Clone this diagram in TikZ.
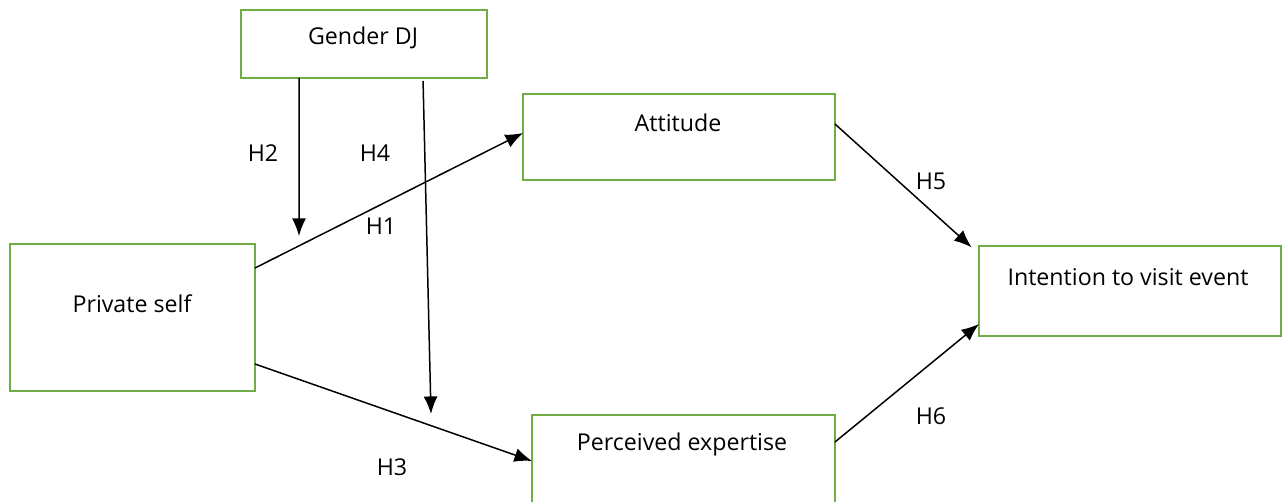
\documentclass[tikz,border=0pt]{standalone}
\usepackage{fontspec}
\setmainfont{Open Sans}
\usepackage{xcolor}
\usetikzlibrary{arrows.meta, positioning, calc}
\definecolor{boxgreen}{HTML}{70AD47}

\begin{document}
\begin{tikzpicture}[x=0.02cm, y=-0.02cm,
    font=\fontsize{13.2}{15}\selectfont,
    box/.style={draw=boxgreen, line width=0.8pt, inner sep=0pt, outer sep=0pt},
    hyp/.style={-{Latex[length=10pt,width=8pt]}, line width=0.85pt}]
          \useasboundingbox (0,0) rectangle (1286,501);

          % boxes
          \node[box, minimum width=4.92cm, minimum height=1.36cm] (gdj) at (364,44) {};
          \node[box, minimum width=6.24cm, minimum height=1.72cm] (att) at (679,137) {};
          \node[box, minimum width=4.90cm, minimum height=2.94cm] (prv) at (132.5,317.5) {};
          \node[box, minimum width=6.04cm, minimum height=1.80cm] (int) at (1130,291) {};
          \node[box, minimum width=6.06cm, minimum height=1.96cm] (per) at (683.5,464) {};

          \node (gdjtxt) at (363,38) {Gender DJ};
          \node (atttxt) at (678,123) {Attitude};
          \node (prvtxt) at (132,304) {Private self};
          \node (inttxt) at (1128,277) {Intention to visit event};
          \node (pertxt) at (682,444) {Perceived expertise};

          % moderator arrows
          \coordinate (h2end) at (299,236);
          \coordinate (h4end) at (431,414);
          \draw[hyp] ([xshift=-1.3cm]gdj.south) -- (h2end);
          \draw[hyp, shorten <=0.06cm] ([xshift=1.18cm]gdj.south) -- (h4end);

          % paths
          \draw[hyp] ([yshift=0.99cm]prv.east) -- ([yshift=0.08cm]att.west);
          \draw[hyp] ([yshift=-0.93cm]prv.east) -- ([yshift=0.06cm]per.west);
          \draw[hyp, shorten >=0.2cm] ([yshift=0.26cm]att.east) -- ([yshift=0.74cm]int.west);
          \draw[hyp] ([yshift=0.44cm]per.east) -- ([yshift=-0.66cm]int.west);

          % hypotheses
          \node (lblh2) at (263,153) {H2};
          \node (lblh4) at (375,153) {H4};
          \node (lblh1) at (381,226) {H1};
          \node (lblh3) at (392,467) {H3};
          \node (lblh5) at (931,181) {H5};
          \node (lblh6) at (931,416) {H6};
\end{tikzpicture}
\end{document}
